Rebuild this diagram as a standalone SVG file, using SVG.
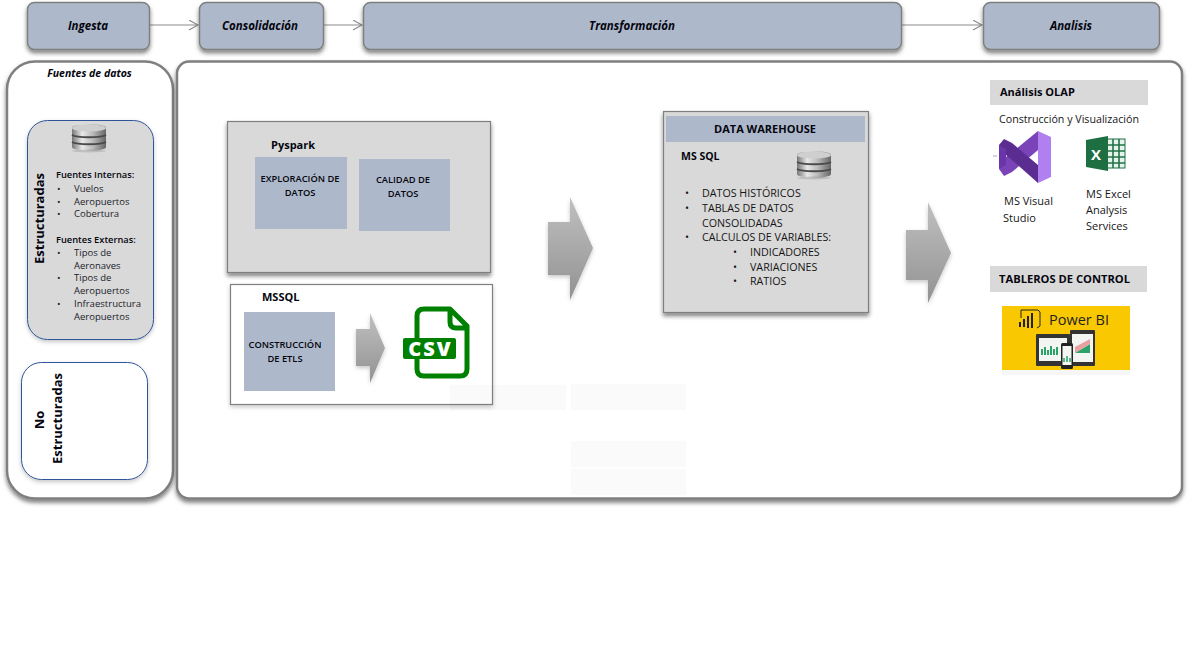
<svg xmlns="http://www.w3.org/2000/svg" width="1201" height="648" viewBox="0 0 1201 648">
<style>
text{font-family:"Open Sans","Noto Sans","Liberation Sans",sans-serif;fill:#05050f}
.h{font-size:11.5px;font-weight:700;font-style:italic;text-anchor:middle}
.b{font-weight:700;font-size:10.5px}
.s{font-weight:600;font-size:9.3px}
.m{text-anchor:middle}
.l{font-size:9.5px;fill:#1c1c2c}
.d{font-size:10.7px;fill:#151515}
.a{font-size:11px;fill:#151515}
.stage{fill:#adb9ca;stroke:#7f7f7f;stroke-width:1.5}
.panel{fill:#fff;stroke:#7f7f7f;stroke-width:2.5}
.grey{fill:#d9d9d9;stroke:#7f7f7f;stroke-width:1.2}
.blue{fill:#adb9ca}
.faint{fill:#000;opacity:.02}
.conn{fill:none;stroke:#8c8c8c;stroke-width:1.2}
</style>
<defs>
<filter id="sh" x="-10%" y="-10%" width="120%" height="125%"><feDropShadow dx="0" dy="3" stdDeviation="2.2" flood-color="#000" flood-opacity=".5"/></filter>
<filter id="sh2" x="-20%" y="-20%" width="140%" height="140%"><feDropShadow dx="0" dy="2" stdDeviation="2" flood-color="#000" flood-opacity=".22"/></filter>
<linearGradient id="ar" x1="0" y1="0" x2="0" y2="1"><stop offset="0" stop-color="#c0c0c0"/><stop offset="1" stop-color="#929292"/></linearGradient>
<linearGradient id="sil" x1="0" y1="0" x2="1" y2="0"><stop offset="0" stop-color="#777"/><stop offset=".3" stop-color="#e8e8e8"/><stop offset=".6" stop-color="#bbb"/><stop offset="1" stop-color="#666"/></linearGradient>
<marker id="op" markerWidth="12" markerHeight="12" refX="9" refY="5" orient="auto" markerUnits="userSpaceOnUse"><path d="M0 0L9 5L0 10" fill="none" stroke="#8c8c8c" stroke-width="1.1"/></marker>
<symbol id="db" viewBox="0 0 36 30" width="36" height="30" overflow="visible">
<path d="M1 5C1 0 35 0 35 5V24C35 29 1 29 1 24Z" fill="url(#sil)"/>
<ellipse cx="18" cy="5" rx="17" ry="3.6" fill="#cfcfcf"/>
<path d="M1 12C6 15 30 15 35 12M1 19C6 22 30 22 35 19" fill="none" stroke="#4a4a4a" stroke-width="2"/>
<ellipse cx="18" cy="28" rx="17" ry="1.5" fill="#000" opacity=".12"/>
</symbol>
</defs>

<g id="conectores">
<path class="conn" marker-end="url(#op)" d="M150 25H198"/>
<path class="conn" marker-end="url(#op)" d="M323 25H362"/>
<path class="conn" marker-end="url(#op)" d="M902 25H982"/>
</g>

<g id="ingesta"><rect class="stage" filter="url(#sh)" x="27.5" y="2.5" width="122" height="47" rx="7"/><text class="h" x="88" y="30">Ingesta</text></g>
<g id="consolidacion"><rect class="stage" filter="url(#sh)" x="199.5" y="2.5" width="124" height="47" rx="7"/><text class="h" x="260" y="30">Consolidación</text></g>
<g id="transformacion"><rect class="stage" filter="url(#sh)" x="363.5" y="2.5" width="538" height="47" rx="7"/><text class="h" x="632" y="30">Transformación</text></g>
<g id="analisis"><rect class="stage" filter="url(#sh)" x="983.5" y="2.5" width="176" height="47" rx="7"/><text class="h" x="1071" y="30">Analisis</text></g>

<g id="fuentes"><rect class="panel" filter="url(#sh)" x="7" y="61.5" width="166" height="437" rx="28"/><text class="h" style="font-size:10.5px" x="89.5" y="77">Fuentes de datos</text></g>
<g id="panel-principal"><rect class="panel" filter="url(#sh)" x="177" y="61.5" width="1005" height="437" rx="12"/></g>

<g id="estructuradas">
<rect filter="url(#sh2)" x="27.5" y="120.5" width="126" height="219" rx="20" fill="#d9d9d9" stroke="#2f5597" stroke-width="1"/>
<use href="#db" x="71" y="123"/>
<text class="b" style="font-size:13px" transform="translate(44 218.5) rotate(-90)" text-anchor="middle">Estructuradas</text>
<text class="s" x="56" y="178">Fuentes Internas:</text>
<text class="l" x="57" y="192">•</text><text class="l" x="74" y="192">Vuelos</text>
<text class="l" x="57" y="205">•</text><text class="l" x="74" y="205">Aeropuertos</text>
<text class="l" x="57" y="217">•</text><text class="l" x="74" y="217">Cobertura</text>
<text class="s" x="56" y="243">Fuentes Externas:</text>
<text class="l" x="57" y="256">•</text><text class="l" x="74" y="256">Tipos de</text>
<text class="l" x="74" y="269">Aeronaves</text>
<text class="l" x="57" y="281">•</text><text class="l" x="74" y="281">Tipos de</text>
<text class="l" x="74" y="294">Aeropuertos</text>
<text class="l" x="57" y="307">•</text><text class="l" x="74" y="307" textLength="67" lengthAdjust="spacingAndGlyphs">Infraestructura</text>
<text class="l" x="74" y="320">Aeropuertos</text>
</g>

<g id="no-estructuradas">
<rect filter="url(#sh2)" x="21.5" y="362.5" width="126" height="117" rx="20" fill="#fff" stroke="#2f5597" stroke-width="1"/>
<text class="b" style="font-size:13px" transform="translate(44 420) rotate(-90)" text-anchor="middle">No</text>
<text class="b" style="font-size:13px" transform="translate(62 418.5) rotate(-90)" text-anchor="middle">Estructuradas</text>
</g>

<g id="pyspark">
<rect class="grey" filter="url(#sh)" x="227.5" y="121.5" width="263" height="151"/>
<text class="b" style="font-size:11px" x="271" y="149">Pyspark</text>
</g>
<g id="exploracion"><rect class="blue" x="255" y="157" width="92" height="72"/>
<text class="s m" x="300" y="182">EXPLORACIÓN DE</text><text class="s m" x="300" y="196">DATOS</text></g>
<g id="calidad"><rect class="blue" x="359" y="159" width="91" height="72"/>
<text class="s m" x="403" y="183">CALIDAD DE</text><text class="s m" x="403" y="197">DATOS</text></g>

<g id="mssql">
<rect filter="url(#sh2)" x="230.5" y="284.5" width="262" height="120" fill="#fff" stroke="#7f7f7f" stroke-width="1.2"/>
<text class="b" style="font-size:11px" x="262" y="301">MSSQL</text>
</g>
<g id="construccion"><rect class="blue" x="244" y="312" width="91" height="79"/>
<text class="s m" x="285" y="348">CONSTRUCCIÓN</text><text class="s m" x="285" y="362">DE ETLS</text></g>
<path id="flecha-etl" filter="url(#sh2)" fill="url(#ar)" d="M356 329H370V313L385 348L370 383V366H356Z"/>
<g id="csv">
<path d="M417 338V316Q417 309 424 309H450L467 326V369Q467 376 460 376H424Q417 376 417 369V358M450 309V322Q450 328 456 328H467" fill="none" stroke="#008000" stroke-width="5" stroke-linejoin="round"/>
<rect x="403" y="338" width="53" height="21" rx="2" fill="#008000"/>
<text x="430.500" y="356" text-anchor="middle" style="font-size:20px;font-weight:800;fill:#fff;letter-spacing:2px">CSV</text>
</g>

<path id="flecha-1" filter="url(#sh2)" fill="url(#ar)" d="M548 222H570V197L593 248L570 300V275H548Z"/>
<path id="flecha-2" filter="url(#sh2)" fill="url(#ar)" d="M906 230H928V202L951 253L928 303V280H906Z"/>

<g id="data-warehouse">
<rect class="grey" filter="url(#sh)" x="663.5" y="111.5" width="205" height="201"/>
<rect class="blue" x="666" y="116" width="199" height="26"/>
<text class="b m" style="font-size:11px" x="765" y="133">DATA WAREHOUSE</text>
<text class="b" style="font-size:10.5px" x="681" y="160">MS SQL</text>
<use href="#db" x="796" y="150"/>
<text class="d" x="685" y="197">•</text><text class="d" x="702" y="197">DATOS HISTÓRICOS</text>
<text class="d" x="685" y="212">•</text><text class="d" x="702" y="212">TABLAS DE DATOS</text>
<text class="d" x="702" y="227">CONSOLIDADAS</text>
<text class="d" x="685" y="241">•</text><text class="d" x="702" y="241">CALCULOS DE VARIABLES:</text>
<text class="d" x="733" y="256">•</text><text class="d" x="750" y="256">INDICADORES</text>
<text class="d" x="733" y="271">•</text><text class="d" x="750" y="271">VARIACIONES</text>
<text class="d" x="733" y="285">•</text><text class="d" x="750" y="285">RATIOS</text>
</g>

<g id="olap">
<rect x="990" y="80" width="158" height="25" fill="#d9d9d9"/>
<text class="b" style="font-size:11px" x="1000" y="96">Análisis OLAP</text>
<text class="a" x="999" y="123" textLength="140" lengthAdjust="spacingAndGlyphs">Construcción y Visualización</text>
</g>
<g id="visual-studio">
<path d="M993 156H997" stroke="#aaa" stroke-width="1"/>
<path d="M1038 131L1051 137V177L1038 183Z" fill="#b180f0"/>
<path d="M1038 131V150L1012 172L1004 176L999 169L1006 157Z" fill="#7a43b8"/>
<path d="M999 145L1004 139L1012 143L1038 165V183L1012 160L1006 155V160L999 165Z" fill="#5c2d91"/>
<path d="M999 145L1006 149V165L999 169Z" fill="#6a35a8"/>
<text class="a" x="1004" y="205">MS Visual</text><text class="a" x="1003" y="222">Studio</text>
</g>
<g id="excel">
<rect x="1106" y="139" width="19" height="29" fill="#e6f2ec" stroke="#217346" stroke-width="1"/>
<path d="M1108 145H1125M1108 151H1125M1108 157H1125M1108 163H1125M1113 139V168M1119 139V168" stroke="#217346" stroke-width="1.6" fill="none"/>
<path d="M1086 140L1108 136V171L1086 167Z" fill="#1d6f42"/>
<text x="1096" y="160" text-anchor="middle" style="font-size:15px;font-weight:700;fill:#fff">X</text>
<text class="a" x="1086" y="198">MS Excel</text><text class="a" x="1086" y="214">Analysis</text><text class="a" x="1086" y="230">Services</text>
</g>
<g id="tableros">
<rect x="990" y="266" width="157" height="26" fill="#d9d9d9"/>
<text class="b" x="999" y="283" textLength="131" lengthAdjust="spacingAndGlyphs">TABLEROS DE CONTROL</text>
</g>
<g id="power-bi">
<rect x="1002" y="370" width="128" height="5" fill="#f6f6f6"/>
<rect x="1002" y="306" width="128" height="64" fill="#f9c800"/>
<path d="M1021 318V310H1038L1040 312V326L1037 328" fill="none" stroke="#222" stroke-width="1"/>
<path d="M1020 322V327M1024 319V327M1028 316V328M1032 313V328" stroke="#222" stroke-width="2"/>
<text x="1049" y="325" style="font-size:14.5px;font-weight:500;fill:#222">Power BI</text>
<rect x="1036" y="334" width="34" height="32" rx="1" fill="#333"/>
<rect x="1039" y="338" width="28" height="23" fill="#f2f5f2"/>
<path d="M1042 355V349M1045 355V347M1048 355V350M1051 355V346M1054 355V349M1057 355V347" stroke="#2aa36b" stroke-width="2"/>
<rect x="1070" y="330" width="25" height="36" rx="1" fill="#333"/>
<rect x="1072" y="334" width="21" height="28" fill="#f2f5f2"/>
<path d="M1075 353L1090 344V353Z" fill="#2aa36b"/><path d="M1075 347L1090 339V344L1075 353Z" fill="#e9a0a0"/>
<rect x="1061" y="343" width="12" height="26" rx="1.5" fill="#222"/>
<rect x="1062.500" y="346" width="9" height="19" fill="#f2f5f2"/>
<path d="M1064 362V358M1067 362V356M1070 362V358" stroke="#2aa36b" stroke-width="1.5"/>
</g>

<rect class="faint" x="450" y="385" width="116" height="25"/>
<rect class="faint" x="571" y="384" width="115" height="26"/>
<rect class="faint" x="571" y="441" width="115" height="26"/>
<rect class="faint" x="571" y="469" width="115" height="26"/>
</svg>
